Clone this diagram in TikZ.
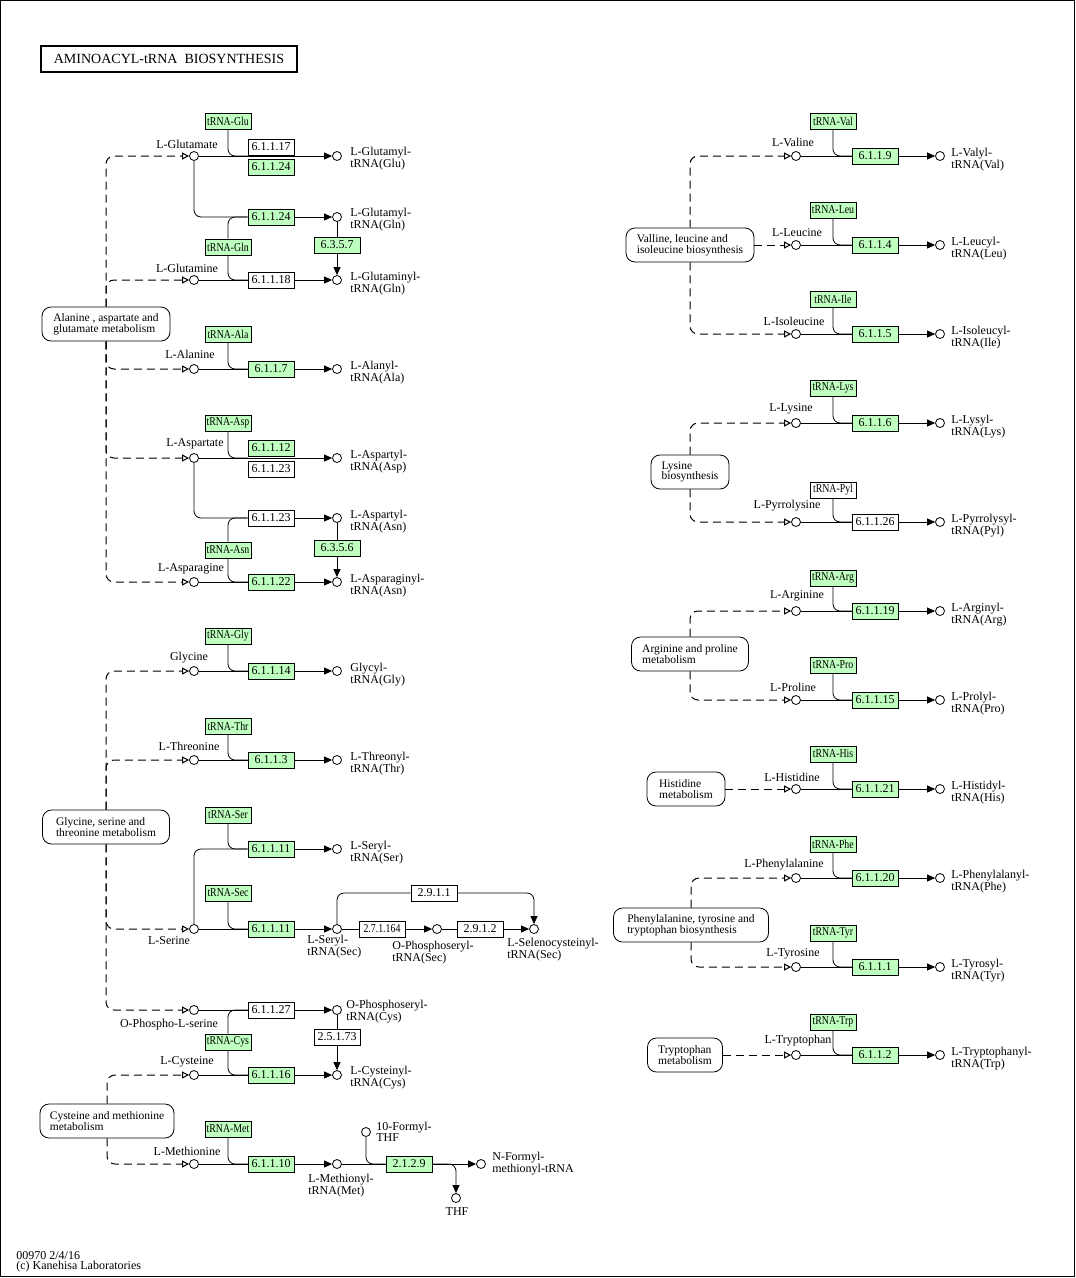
\documentclass[tikz,border=0pt]{standalone}
\usepackage{fontspec}
\setmainfont{Liberation Serif}
\newfontfamily\trnafont[FakeStretch=0.82]{Liberation Serif}
\usetikzlibrary{arrows.meta}
\definecolor{enzgreen}{HTML}{BFFFBF}

\begin{document}
\begin{tikzpicture}[x=1pt, y=-1pt, line width=0.8pt, >={Triangle[length=8pt, width=7pt]},
    cpd/.style={circle, draw, fill=white, inner sep=0pt, minimum size=9pt},
    enz/.style={draw, fill=enzgreen, inner sep=0pt, minimum width=46pt, minimum height=16pt, font=\fontsize{12}{12}\selectfont},
    enzw/.style={enz, fill=white},
    trna/.style={enz, font=\trnafont\fontsize{12}{12}\selectfont},
    trnaw/.style={trna, fill=white},
    pmap/.style={draw, rounded corners=9pt, align=left, minimum height=34pt, inner sep=0pt, font=\fontsize{11.5}{10.5}\selectfont},
    lbl/.style={inner sep=0pt, font=\fontsize{12}{10.5}\selectfont},
    plbl/.style={lbl, anchor=west, align=left},
    src/.style={line width=1pt, dash pattern=on 8pt off 5pt, rounded corners=8pt, -{Triangle[open, length=7pt, width=7pt]}},
    tjoin/.style={rounded corners=7pt}]
    \useasboundingbox (0,0) rectangle (1076,1278);
    \draw (0.5,0.5) rectangle (1074.5,1276.5);

    % Title and footer
    \node[draw, line width=1.6pt, minimum width=256pt, minimum height=26pt, font=\fontsize{14}{14}\selectfont] (title) at (169,59) {AMINOACYL-tRNA\ \ BIOSYNTHESIS};
    \node[lbl, anchor=west, align=left] (foot) at (16,1262) {00970 2/4/16\\(c) Kanehisa Laboratories};

    % Pathway maps
    \node[pmap, minimum width=128pt] (bAla) at (106,324) {Alanine , aspartate and\\glutamate metabolism};
    \node[pmap, minimum width=127pt] (bGly) at (106,827) {Glycine, serine and\\threonine metabolism};
    \node[pmap, minimum width=134pt] (bCys) at (107,1121) {Cysteine and methionine\\metabolism};
    \node[pmap, minimum width=128pt] (bVal) at (690,245) {Valline, leucine and\\isoleucine biosynthesis};
    \node[pmap, minimum width=78pt] (bLys) at (690,472) {Lysine\\biosynthesis};
    \node[pmap, minimum width=117pt] (bArg) at (690,654) {Arginine and proline\\metabolism};
    \node[pmap, minimum width=78pt] (bHis) at (686,789) {Histidine\\metabolism};
    \node[pmap, minimum width=155pt] (bPhe) at (691,925) {Phenylalanine, tyrosine and\\tryptophan biosynthesis};
    \node[pmap, minimum width=75pt] (bTrp) at (685,1055) {Tryptophan\\metabolism};

    % Glutamate, glutamine
    \node[trna] (tGlu) at (228,121) {tRNA-Glu};
    \node[cpd] (aGlu) at (194,156) {};
    \node[lbl] (lGlu) at (187,144) {L-Glutamate};
    \node[enzw] (e17) at (271,147) {6.1.1.17};
    \node[enz] (e24a) at (271,167) {6.1.1.24};
    \node[cpd] (pGlu) at (337,156) {};
    \node[plbl] (lpGlu) at (350,159) {L-Glutamyl-\\tRNA(Glu)};
    \node[enz] (e24b) at (271,217) {6.1.1.24};
    \node[cpd] (pGluGln) at (337,217) {};
    \node[plbl] (lpGluGln) at (350,220) {L-Glutamyl-\\tRNA(Gln)};
    \node[enz] (e6357) at (337,245) {6.3.5.7};
    \node[trna] (tGln) at (228,247) {tRNA-Gln};
    \node[cpd] (aGln) at (194,280) {};
    \node[lbl] (lGln) at (187,268) {L-Glutamine};
    \node[enzw] (e18) at (271,280) {6.1.1.18};
    \node[cpd] (pGlnGln) at (337,280) {};
    \node[plbl] (lpGlnGln) at (350,284) {L-Glutaminyl-\\tRNA(Gln)};

    % Alanine
    \node[trna] (tAla) at (228,334) {tRNA-Ala};
    \node[cpd] (aAla) at (194,369) {};
    \node[lbl] (lAla) at (190,354) {L-Alanine};
    \node[enz] (e7) at (271,369) {6.1.1.7};
    \node[cpd] (pAla) at (337,369) {};
    \node[plbl] (lpAla) at (350,373) {L-Alanyl-\\tRNA(Ala)};

    % Aspartate, asparagine
    \node[trna] (tAsp) at (228,423) {tRNA-Asp};
    \node[cpd] (aAsp) at (194,458) {};
    \node[lbl] (lAsp) at (195,444) {L-Aspartate};
    \node[enz] (e12) at (271,448) {6.1.1.12};
    \node[enzw] (e23a) at (271,469) {6.1.1.23};
    \node[cpd] (pAsp) at (337,458) {};
    \node[plbl] (lpAsp) at (350,462) {L-Aspartyl-\\tRNA(Asp)};
    \node[enzw] (e23b) at (271,518) {6.1.1.23};
    \node[cpd] (pAspAsn) at (337,518) {};
    \node[plbl] (lpAspAsn) at (350,522) {L-Aspartyl-\\tRNA(Asn)};
    \node[enz] (e6356) at (337,548) {6.3.5.6};
    \node[trna] (tAsn) at (228,550) {tRNA-Asn};
    \node[cpd] (aAsn) at (194,582) {};
    \node[lbl] (lAsn) at (191,569) {L-Asparagine};
    \node[enz] (e22) at (271,582) {6.1.1.22};
    \node[cpd] (pAsnAsn) at (337,582) {};
    \node[plbl] (lpAsnAsn) at (350,586) {L-Asparaginyl-\\tRNA(Asn)};

    % Glycine, threonine
    \node[trna] (tGly) at (228,636) {tRNA-Gly};
    \node[cpd] (aGly) at (194,671) {};
    \node[lbl] (lGly) at (189,658) {Glycine};
    \node[enz] (e14) at (271,671) {6.1.1.14};
    \node[cpd] (pGly) at (337,671) {};
    \node[plbl] (lpGly) at (350,675) {Glycyl-\\tRNA(Gly)};
    \node[trna] (tThr) at (228,726) {tRNA-Thr};
    \node[cpd] (aThr) at (194,760) {};
    \node[lbl] (lThr) at (189,746) {L-Threonine};
    \node[enz] (e3) at (271,760) {6.1.1.3};
    \node[cpd] (pThr) at (337,760) {};
    \node[plbl] (lpThr) at (350,764) {L-Threonyl-\\tRNA(Thr)};

    % Serine, selenocysteine
    \node[trna] (tSer) at (228,815) {tRNA-Ser};
    \node[enz] (e11a) at (271,849) {6.1.1.11};
    \node[cpd] (pSer) at (337,849) {};
    \node[plbl] (lpSer) at (350,853) {L-Seryl-\\tRNA(Ser)};
    \node[trna] (tSec) at (228,893) {tRNA-Sec};
    \node[cpd] (aSer) at (194,929) {};
    \node[lbl] (lSer) at (169,941) {L-Serine};
    \node[enz] (e11b) at (271,929) {6.1.1.11};
    \node[cpd] (pSerSec) at (337,929) {};
    \node[plbl] (lpSerSec) at (307,947) {L-Seryl-\\tRNA(Sec)};
    \node[enzw, font=\trnafont\fontsize{12}{12}\selectfont] (e27164) at (382,929) {2.7.1.164};
    \node[cpd] (pOPSec) at (437,929) {};
    \node[plbl] (lpOPSec) at (392,953) {O-Phosphoseryl-\\tRNA(Sec)};
    \node[enzw] (e2912) at (480,929) {2.9.1.2};
    \node[cpd] (pSec) at (534,929) {};
    \node[plbl] (lpSec) at (507,950) {L-Selenocysteinyl-\\tRNA(Sec)};
    \node[enzw] (e2911) at (434,893) {2.9.1.1};

    % O-Phospho-L-serine, cysteine
    \node[cpd] (aOPS) at (194,1010) {};
    \node[lbl] (lOPS) at (169,1025) {O-Phospho-L-serine};
    \node[enzw] (e27) at (271,1010) {6.1.1.27};
    \node[cpd] (pOPCys) at (337,1010) {};
    \node[plbl] (lpOPCys) at (346,1012) {O-Phosphoseryl-\\tRNA(Cys)};
    \node[enzw] (e25173) at (337,1037) {2.5.1.73};
    \node[trna] (tCys) at (228,1042) {tRNA-Cys};
    \node[cpd] (aCys) at (194,1075) {};
    \node[lbl] (lCys) at (187,1062) {L-Cysteine};
    \node[enz] (e16) at (271,1075) {6.1.1.16};
    \node[cpd] (pCys) at (337,1075) {};
    \node[plbl] (lpCys) at (350,1078) {L-Cysteinyl-\\tRNA(Cys)};

    % Methionine
    \node[trna] (tMet) at (228,1129) {tRNA-Met};
    \node[cpd] (aMet) at (194,1164) {};
    \node[lbl] (lMet) at (187,1151) {L-Methionine};
    \node[enz] (e10) at (271,1164) {6.1.1.10};
    \node[cpd] (pMet) at (337,1164) {};
    \node[plbl] (lpMet) at (308,1186) {L-Methionyl-\\tRNA(Met)};
    \node[cpd] (cFTHF) at (366,1132) {};
    \node[plbl] (lFTHF) at (376,1132) {10-Formyl-\\THF};
    \node[enz] (e2129) at (409,1164) {2.1.2.9};
    \node[cpd] (pFMet) at (481,1164) {};
    \node[plbl] (lpFMet) at (492,1164) {N-Formyl-\\methionyl-tRNA};
    \node[cpd] (cTHF) at (456,1198) {};
    \node[lbl] (lTHF) at (457,1212) {THF};

    % Valine, leucine, isoleucine
    \node[trna] (tVal) at (833,121) {tRNA-Val};
    \node[cpd] (aVal) at (796,156) {};
    \node[lbl] (lVal) at (793,142) {L-Valine};
    \node[enz] (eVal) at (875,156) {6.1.1.9};
    \node[cpd] (pVal) at (940,156) {};
    \node[plbl] (lpVal) at (951,160) {L-Valyl-\\tRNA(Val)};
    \node[trna] (tLeu) at (833,210) {tRNA-Leu};
    \node[cpd] (aLeu) at (796,245) {};
    \node[lbl] (lLeu) at (797,233) {L-Leucine};
    \node[enz] (eLeu) at (875,245) {6.1.1.4};
    \node[cpd] (pLeu) at (940,245) {};
    \node[plbl] (lpLeu) at (951,249) {L-Leucyl-\\tRNA(Leu)};
    \node[trna] (tIle) at (833,299) {tRNA-Ile};
    \node[cpd] (aIle) at (796,334) {};
    \node[lbl] (lIle) at (794,321) {L-Isoleucine};
    \node[enz] (eIle) at (875,334) {6.1.1.5};
    \node[cpd] (pIle) at (940,334) {};
    \node[plbl] (lpIle) at (951,338) {L-Isoleucyl-\\tRNA(Ile)};

    % Lysine, pyrrolysine
    \node[trna] (tLys) at (833,388) {tRNA-Lys};
    \node[cpd] (aLys) at (796,423) {};
    \node[lbl] (lLys) at (791,409) {L-Lysine};
    \node[enz] (eLys) at (875,423) {6.1.1.6};
    \node[cpd] (pLys) at (940,423) {};
    \node[plbl] (lpLys) at (951,427) {L-Lysyl-\\tRNA(Lys)};
    \node[trnaw] (tPyl) at (833,490) {tRNA-Pyl};
    \node[cpd] (aPyl) at (796,522) {};
    \node[lbl] (lPyl) at (787,506) {L-Pyrrolysine};
    \node[enzw] (ePyl) at (875,522) {6.1.1.26};
    \node[cpd] (pPyl) at (940,522) {};
    \node[plbl] (lpPyl) at (951,526) {L-Pyrrolysyl-\\tRNA(Pyl)};

    % Arginine, proline
    \node[trna] (tArg) at (833,578) {tRNA-Arg};
    \node[cpd] (aArg) at (796,611) {};
    \node[lbl] (lArg) at (797,596) {L-Arginine};
    \node[enz] (eArg) at (875,611) {6.1.1.19};
    \node[cpd] (pArg) at (940,611) {};
    \node[plbl] (lpArg) at (951,615) {L-Arginyl-\\tRNA(Arg)};
    \node[trna] (tPro) at (833,665) {tRNA-Pro};
    \node[cpd] (aPro) at (796,700) {};
    \node[lbl] (lPro) at (793,687) {L-Proline};
    \node[enz] (ePro) at (875,700) {6.1.1.15};
    \node[cpd] (pPro) at (940,700) {};
    \node[plbl] (lpPro) at (951,704) {L-Prolyl-\\tRNA(Pro)};

    % Histidine
    \node[trna] (tHis) at (833,754) {tRNA-His};
    \node[cpd] (aHis) at (796,789) {};
    \node[lbl] (lHis) at (792,777) {L-Histidine};
    \node[enz] (eHis) at (875,789) {6.1.1.21};
    \node[cpd] (pHis) at (940,789) {};
    \node[plbl] (lpHis) at (951,793) {L-Histidyl-\\tRNA(His)};

    % Phenylalanine, tyrosine, tryptophan
    \node[trna] (tPhe) at (833,844) {tRNA-Phe};
    \node[cpd] (aPhe) at (796,878) {};
    \node[lbl] (lPhe) at (784,865) {L-Phenylalanine};
    \node[enz] (ePhe) at (875,878) {6.1.1.20};
    \node[cpd] (pPhe) at (940,878) {};
    \node[plbl] (lpPhe) at (951,882) {L-Phenylalanyl-\\tRNA(Phe)};
    \node[trna] (tTyr) at (833,933) {tRNA-Tyr};
    \node[cpd] (aTyr) at (796,967) {};
    \node[lbl] (lTyr) at (793,954) {L-Tyrosine};
    \node[enz] (eTyr) at (875,967) {6.1.1.1};
    \node[cpd] (pTyr) at (940,967) {};
    \node[plbl] (lpTyr) at (951,971) {L-Tyrosyl-\\tRNA(Tyr)};
    \node[trna] (tTrp) at (833,1022) {tRNA-Trp};
    \node[cpd] (aTrp) at (796,1055) {};
    \node[lbl] (lTrp) at (798,1041) {L-Tryptophan};
    \node[enz] (eTrp) at (875,1055) {6.1.1.2};
    \node[cpd] (pTrp) at (940,1055) {};
    \node[plbl] (lpTrp) at (951,1059) {L-Tryptophanyl-\\tRNA(Trp)};

    % Links from the pathway maps
    \draw[src] (bAla) |- (aGlu);
    \draw[src] (bAla) |- (aGln);
    \draw[src] (bAla) |- (aAla);
    \draw[src] (bAla) |- (aAsp);
    \draw[src] (bAla) |- (aAsn);
    \draw[src] (bGly) |- (aGly);
    \draw[src] (bGly) |- (aThr);
    \draw[src] (bGly) |- (aSer);
    \draw[src] (bGly) |- (aOPS);
    \draw[src] (bCys) |- (aCys);
    \draw[src] (bCys) |- (aMet);
    \draw[src] (bVal) |- (aVal);
    \draw[src] (bVal) -- (aLeu);
    \draw[src] (bVal) |- (aIle);
    \draw[src] (bLys) |- (aLys);
    \draw[src] (bLys) |- (aPyl);
    \draw[src] (bArg) |- (aArg);
    \draw[src] (bArg) |- (aPro);
    \draw[src] (bHis) -- (aHis);
    \draw[src] (bPhe) |- (aPhe);
    \draw[src] (bPhe) |- (aTyr);
    \draw[src] (bTrp) -- (aTrp);

    % Reactions, left column
    \draw[->] (aGlu) -- (pGlu);
    \draw[tjoin] (tGlu) |- (e17.west |- aGlu);
    \draw[tjoin] (aGlu) |- (e24b);
    \draw[->] (e24b) -- (pGluGln);
    \draw[tjoin] (tGln) |- (e24b.west);
    \draw[tjoin] (tGln) |- (e18.west);
    \draw (aGln) -- (e18);
    \draw[->] (e18) -- (pGlnGln);
    \draw (pGluGln) -- (e6357);
    \draw[->] (e6357) -- (pGlnGln);

    \draw[tjoin] (tAla) |- (e7.west);
    \draw (aAla) -- (e7);
    \draw[->] (e7) -- (pAla);

    \draw[->] (aAsp) -- (pAsp);
    \draw[tjoin] (tAsp) |- (e12.west |- aAsp);
    \draw[tjoin] (aAsp) |- (e23b);
    \draw[->] (e23b) -- (pAspAsn);
    \draw[tjoin] (tAsn) |- (e23b.west);
    \draw[tjoin] (tAsn) |- (e22.west);
    \draw (aAsn) -- (e22);
    \draw[->] (e22) -- (pAsnAsn);
    \draw (pAspAsn) -- (e6356);
    \draw[->] (e6356) -- (pAsnAsn);

    \draw[tjoin] (tGly) |- (e14.west);
    \draw (aGly) -- (e14);
    \draw[->] (e14) -- (pGly);
    \draw[tjoin] (tThr) |- (e3.west);
    \draw (aThr) -- (e3);
    \draw[->] (e3) -- (pThr);

    \draw[tjoin] (aSer) |- (e11a);
    \draw[tjoin] (tSer) |- (e11a.west);
    \draw[->] (e11a) -- (pSer);
    \draw[tjoin] (tSec) |- (e11b.west);
    \draw (aSer) -- (e11b);
    \draw[->] (e11b) -- (pSerSec);
    \draw (pSerSec) -- (e27164);
    \draw[->] (e27164) -- (pOPSec);
    \draw (pOPSec) -- (e2912);
    \draw[->] (e2912) -- (pSec);
    \draw[tjoin] (pSerSec) |- (e2911);
    \draw[tjoin, ->] (e2911) -| (pSec);

    \draw (aOPS) -- (e27);
    \draw[->] (e27) -- (pOPCys);
    \draw (pOPCys) -- (e25173);
    \draw[->] (e25173) -- (pCys);
    \draw[tjoin] (tCys) |- (e27.west);
    \draw[tjoin] (tCys) |- (e16.west);
    \draw (aCys) -- (e16);
    \draw[->] (e16) -- (pCys);

    \draw[tjoin] (tMet) |- (e10.west);
    \draw (aMet) -- (e10);
    \draw[->] (e10) -- (pMet);
    \draw (pMet) -- (e2129);
    \draw[tjoin] (cFTHF) |- (e2129.west);
    \draw[->] (e2129) -- (pFMet);
    \draw[tjoin, ->] (e2129) -| (cTHF);

    % Reactions, right column
    \draw[tjoin] (tVal) |- (eVal.west);
    \draw (aVal) -- (eVal);
    \draw[->] (eVal) -- (pVal);
    \draw[tjoin] (tLeu) |- (eLeu.west);
    \draw (aLeu) -- (eLeu);
    \draw[->] (eLeu) -- (pLeu);
    \draw[tjoin] (tIle) |- (eIle.west);
    \draw (aIle) -- (eIle);
    \draw[->] (eIle) -- (pIle);
    \draw[tjoin] (tLys) |- (eLys.west);
    \draw (aLys) -- (eLys);
    \draw[->] (eLys) -- (pLys);
    \draw[tjoin] (tPyl) |- (ePyl.west);
    \draw (aPyl) -- (ePyl);
    \draw[->] (ePyl) -- (pPyl);
    \draw[tjoin] (tArg) |- (eArg.west);
    \draw (aArg) -- (eArg);
    \draw[->] (eArg) -- (pArg);
    \draw[tjoin] (tPro) |- (ePro.west);
    \draw (aPro) -- (ePro);
    \draw[->] (ePro) -- (pPro);
    \draw[tjoin] (tHis) |- (eHis.west);
    \draw (aHis) -- (eHis);
    \draw[->] (eHis) -- (pHis);
    \draw[tjoin] (tPhe) |- (ePhe.west);
    \draw (aPhe) -- (ePhe);
    \draw[->] (ePhe) -- (pPhe);
    \draw[tjoin] (tTyr) |- (eTyr.west);
    \draw (aTyr) -- (eTyr);
    \draw[->] (eTyr) -- (pTyr);
    \draw[tjoin] (tTrp) |- (eTrp.west);
    \draw (aTrp) -- (eTrp);
    \draw[->] (eTrp) -- (pTrp);
\end{tikzpicture}
\end{document}
